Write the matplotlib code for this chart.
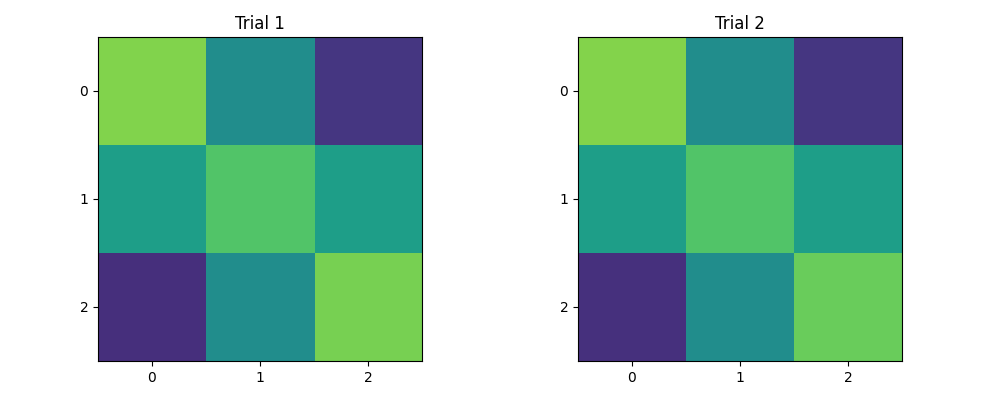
import numpy as np
import matplotlib
matplotlib.use("Agg")
import matplotlib.pyplot as plt

titles = ["Trial 1", "Trial 2"]
trial1 = [[0.81, 0.49, 0.16],
          [0.56, 0.73, 0.56],
          [0.135, 0.49, 0.795]]
trial2 = [[0.815, 0.49, 0.16],
          [0.56, 0.73, 0.56],
          [0.14, 0.49, 0.77]]
ticks = [0, 1, 2]

fig = plt.figure(figsize=(10, 4), dpi=100)
ax1 = fig.add_axes([0.098, 0.0975, 0.324, 0.81])
ax2 = fig.add_axes([0.578, 0.0975, 0.324, 0.81])

for ax, data, title in zip([ax1, ax2], [trial1, trial2], titles):
    ax.imshow(np.array(data), cmap="viridis", vmin=0, vmax=1)
    ax.set_title(title)
    ax.set_xticks(ticks)
    ax.set_yticks(ticks)

fig.savefig("out.png", dpi=100)
